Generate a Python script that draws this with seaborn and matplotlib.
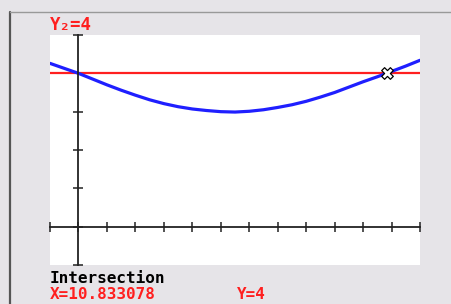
import matplotlib
matplotlib.use("Agg")
import matplotlib.pyplot as plt
from matplotlib.lines import Line2D
import seaborn as sns
import pandas as pd

x_vals = [-1, -0.5, 0, 0.5, 1, 1.5, 2, 2.5, 3, 3.5, 4, 4.5, 5, 5.5, 6,
          6.5, 7, 7.5, 8, 8.5, 9, 9.5, 10, 10.5, 11, 11.5, 12]
y1_vals = [4.26, 4.13, 4.0, 3.85, 3.70, 3.56, 3.43, 3.31, 3.21, 3.13, 3.07, 3.03, 3.00, 2.99, 3.01,
           3.05, 3.11, 3.18, 3.27, 3.38, 3.50, 3.64, 3.78, 3.91, 4.05, 4.19, 4.34]
y2_vals = [4] * len(x_vals)
inter_x = [10.833078]
inter_y = [4]
x_ticks = list(range(-1, 13))
y_ticks = list(range(-1, 6))

df = pd.DataFrame({"x": x_vals, "y1": y1_vals, "y2": y2_vals})

sns.set_style("white")
plt.rcParams['font.family'] = ['DejaVu Sans Mono', 'DejaVu Sans']

bg = "#e6e4e8"
red = "#ff1f1f"
blue = "#1f1fff"

fig = plt.figure(figsize=(4.51, 3.04), dpi=100)
fig.patch.set_facecolor(bg)
ax = fig.add_axes([50/451, 39/304, 370/451, 230/304])
ax.set_facecolor("white")

sns.lineplot(data=df, x="x", y="y2", ax=ax, color=red, linewidth=1.6)
sns.lineplot(data=df, x="x", y="y1", ax=ax, color=blue, linewidth=2.3)
sns.scatterplot(x=inter_x, y=inter_y, ax=ax, marker="X", s=70,
                color="white", edgecolor="black", linewidth=0.9, zorder=5)

ax.set_xlim(-1, 12)
ax.set_ylim(-1, 5)
ax.spines['left'].set_position(('data', 0))
ax.spines['bottom'].set_position(('data', 0))
for s in ['top', 'right']:
    ax.spines[s].set_visible(False)
for s in ['left', 'bottom']:
    ax.spines[s].set_color("#222222")
    ax.spines[s].set_linewidth(1.3)
ax.set_xticks(x_ticks)
ax.set_yticks(y_ticks)
ax.tick_params(bottom=True, left=True, top=False, right=False,
               direction='inout', length=7, width=1.1, color="#222222",
               labelbottom=False, labelleft=False)
ax.set_xlabel("")
ax.set_ylabel("")

# cadre de l'ecran
fig.add_artist(Line2D([10/451, 10/451], [0, 1 - 12/304], color="#555555", linewidth=1.6))
fig.add_artist(Line2D([10/451, 1], [1 - 12/304, 1 - 12/304], color="#999999", linewidth=1.0))

fig.text(50/451, 1 - 30/304, "Y₂=4", color=red, fontsize=12.5, fontweight='bold', va='baseline')
fig.text(50/451, 1 - 283/304, "Intersection", color="black", fontsize=11.5, fontweight='bold', va='baseline')
fig.text(50/451, 1 - 299/304, "X=10.833078", color=red, fontsize=11.5, fontweight='bold', va='baseline')
fig.text(237/451, 1 - 299/304, "Y=4", color=red, fontsize=11.5, fontweight='bold', va='baseline')

fig.savefig("out.png", dpi=100, facecolor=fig.get_facecolor())
